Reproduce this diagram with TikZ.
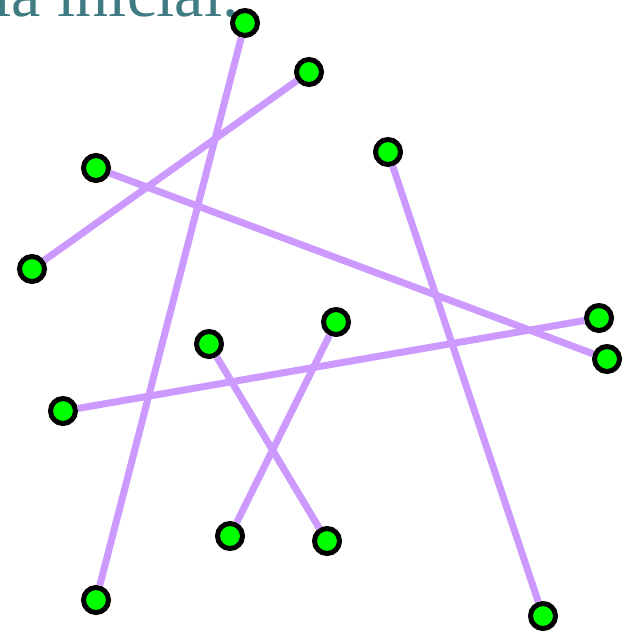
\documentclass[tikz,border=0pt]{standalone}
\usepackage{fontspec}
\setmainfont{Liberation Serif}
\definecolor{segcolor}{RGB}{204,153,255}
\definecolor{titlecolor}{RGB}{62,124,130}
\begin{document}
\begin{tikzpicture}[x=1pt,y=-1pt,
  pt/.style={circle,draw=black,line width=5pt,fill=green,minimum size=25pt,inner sep=0pt},
  seg/.style={segcolor,line width=7pt}]
  \useasboundingbox (0,0) rectangle (630,632);
  \node[anchor=base east,text=titlecolor,font=\fontsize{66}{70}\selectfont,inner sep=0pt] (title) at (239,16) {Instancia inicial.};

  % endpoints of the segments
  \foreach \n/\x/\y in {a1/245/23, a2/96/600, b1/309/72, b2/32/269,
                        c1/96/168, c2/607/359, d1/388/152, d2/543/616,
                        e1/599/318, e2/63/411, f1/209/344, f2/327/541,
                        g1/336/322, g2/230/536}
  \node[pt] (\n) at (\x,\y) {};

  \foreach \s in {a,b,c,d,e,f,g}
  \draw[seg] (\s1) -- (\s2);
\end{tikzpicture}
\end{document}
